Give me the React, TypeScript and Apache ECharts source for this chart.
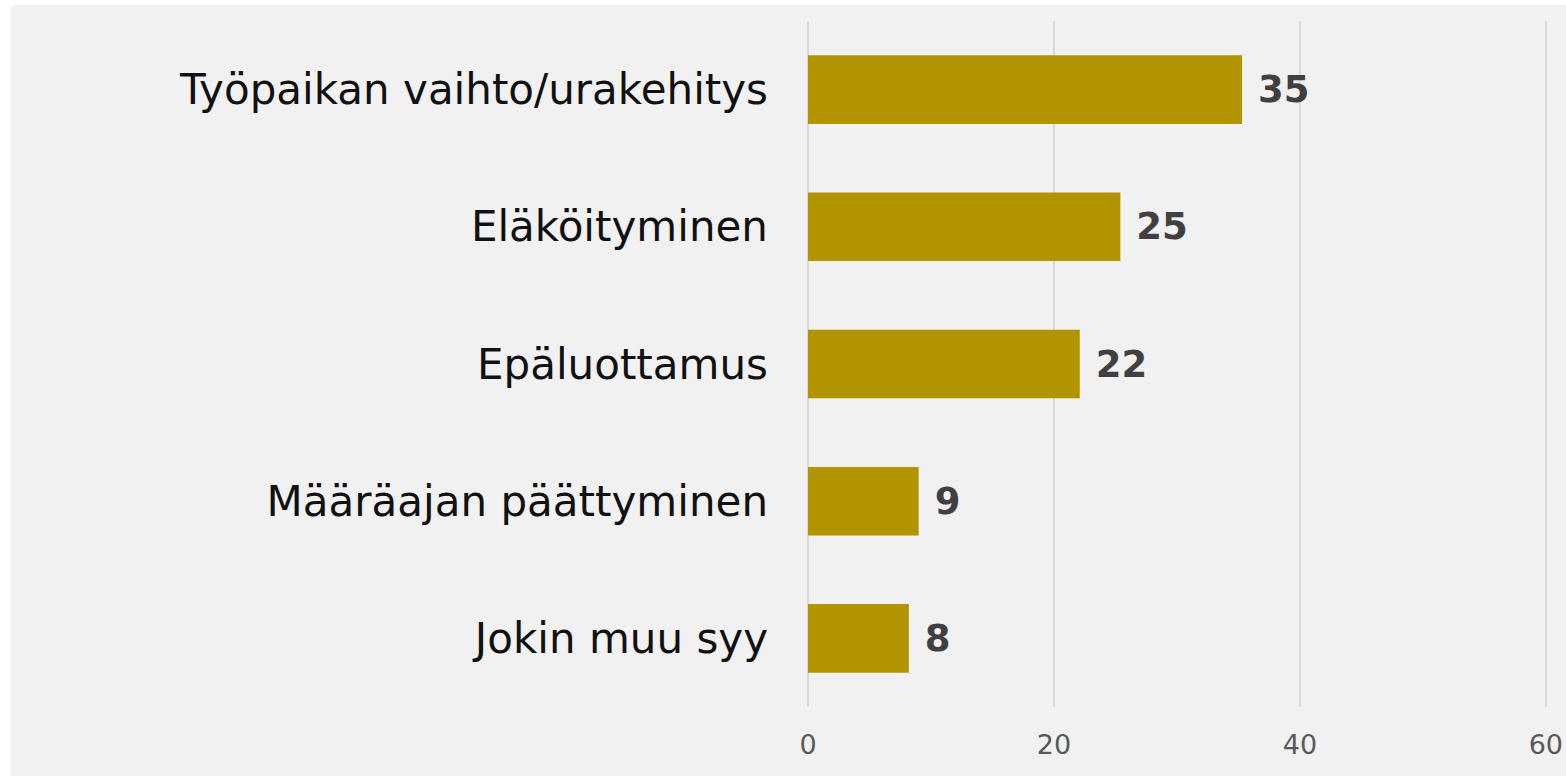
import React, { useEffect, useRef } from "react";
import * as echarts from "echarts";

const categories = [
  "Työpaikan vaihto/urakehitys",
  "Eläköityminen",
  "Epäluottamus",
  "Määräajan päättyminen",
  "Jokin muu syy",
];
const values = [35.3, 25.4, 22.1, 9.0, 8.2];
const xTicks = [0, 20, 40, 60];

export default function App() {
  const ref = useRef<HTMLDivElement>(null);
  useEffect(() => {
    const chart = echarts.init(ref.current!, undefined, { renderer: "svg" });
    chart.setOption({
      animation: false,
      backgroundColor: "#f1f1f1",
      grid: { left: 797, right: 18, top: 16, bottom: 69, containLabel: false },
      xAxis: {
        type: "value",
        min: xTicks[0],
        max: xTicks[xTicks.length - 1],
        interval: 20,
        axisLine: { show: false },
        axisTick: { show: false },
        splitLine: { show: true, lineStyle: { color: "#d9d9d9", width: 2 } },
        axisLabel: {
          color: "#595959",
          fontSize: 27,
          fontFamily: "DejaVu Sans",
          margin: 24,
        },
      },
      yAxis: {
        type: "category",
        data: categories,
        inverse: true,
        axisLine: { show: false },
        axisTick: { show: false },
        axisLabel: {
          color: "#111111",
          fontSize: 42,
          fontFamily: "DejaVu Sans",
          margin: 40,
        },
      },
      series: [
        {
          type: "bar",
          data: values,
          barWidth: "50%",
          itemStyle: { color: "#b19400" },
          label: {
            show: true,
            position: "right",
            distance: 16,
            color: "#404040",
            fontSize: 37,
            fontWeight: "bold",
            fontFamily: "DejaVu Sans",
            formatter: (p: any) => String(Math.round(p.value)),
          },
        },
      ],
    });
    return () => chart.dispose();
  }, []);
  return (
    <div
      ref={ref}
      style={{ position: "absolute", left: 11, top: 5, width: 1555, height: 771 }}
    />
  );
}
